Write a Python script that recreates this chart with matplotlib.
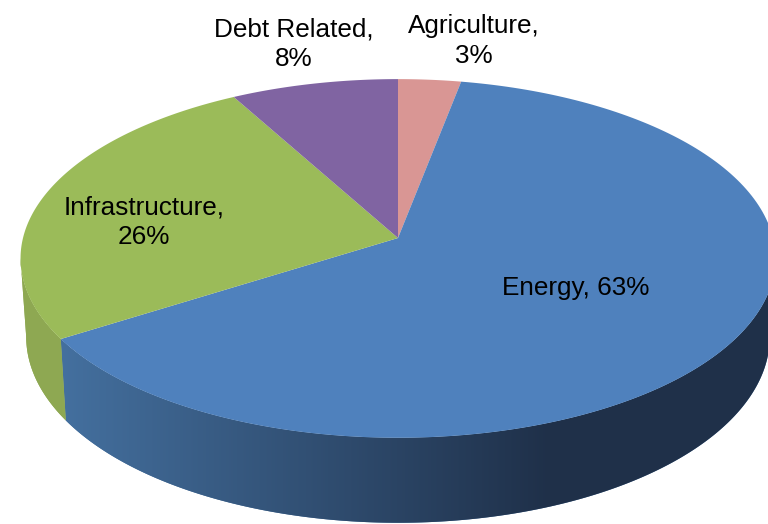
import numpy as np
import matplotlib
matplotlib.use("Agg")
import matplotlib.pyplot as plt
from matplotlib.colors import to_rgb

categories = ["Agriculture", "Energy", "Infrastructure", "Debt Related"]
shares = [3, 63, 26, 8]
top_colors = ["#D99694", "#4F81BD", "#9BBB59", "#8064A2"]
side_left = ["#D99694", "#44709F", "#8EA852", "#8064A2"]
side_right = ["#D99694", "#1F3049", "#8EA852", "#8064A2"]
label_text = ["Agriculture,\n3%", "Energy, 63%", "Infrastructure,\n26%", "Debt Related,\n8%"]
label_pos = [(474, 41), (576, 288), (144, 222.5), (294, 44.5)]

CX, CY = 398, 238
RX, RY = 375, 177
K = 0.114
DEPTH = 85


def proyectar(theta, bajo=False):
    # theta clockwise from the top of the pie, small perspective on y
    u, v = np.sin(theta), np.cos(theta)
    w = 1 + K * v
    x = CX + RX * u / w
    y = CY - RY * v / w
    if bajo:
        x = CX + (x - CX) * 0.985
        y = y + DEPTH * (0.82 + 0.18 * (1 - v) / 2)
    return x, y


fig = plt.figure(figsize=(7.68, 5.24), dpi=100)
ax = fig.add_axes([0, 0, 1, 1])

bordes = np.radians(np.cumsum([0] + shares) * 3.6)
# wall runs between the two silhouette points of the ellipse
frente = (np.arccos(-K), 2 * np.pi - np.arccos(-K))

# side wall first, only the part facing the viewer
for i in range(len(shares)):
    ini = max(bordes[i], frente[0])
    fin = min(bordes[i + 1], frente[1])
    if fin <= ini:
        continue
    t = np.linspace(ini, fin, 300)
    x1, y1 = proyectar(t)
    x2, y2 = proyectar(t[::-1], True)
    borde, = ax.fill(np.r_[x1, x2], np.r_[y1, y2], color=side_left[i], lw=0, zorder=1)
    f = np.clip((np.arange(768) - 60) / 490, 0, 1)[None, :, None]
    grad = (1 - f) * np.array(to_rgb(side_left[i])) + f * np.array(to_rgb(side_right[i]))
    im = ax.imshow(grad, extent=(0, 768, 524, 0), aspect="auto", zorder=1.5)
    im.set_clip_path(borde)

for i in range(len(shares)):
    t = np.linspace(bordes[i], bordes[i + 1], 200)
    x, y = proyectar(t)
    ax.fill(np.r_[CX, x], np.r_[CY, y], color=top_colors[i], lw=0, zorder=2)

for texto, (x, y) in zip(label_text, label_pos):
    ax.text(x, y, texto, ha="center", va="center", fontsize=18.8,
            family="Liberation Sans", color="black", linespacing=1.27, zorder=3)

ax.set_xlim(0, 768)
ax.set_ylim(524, 0)
ax.axis("off")

fig.savefig("out.png", dpi=100)
